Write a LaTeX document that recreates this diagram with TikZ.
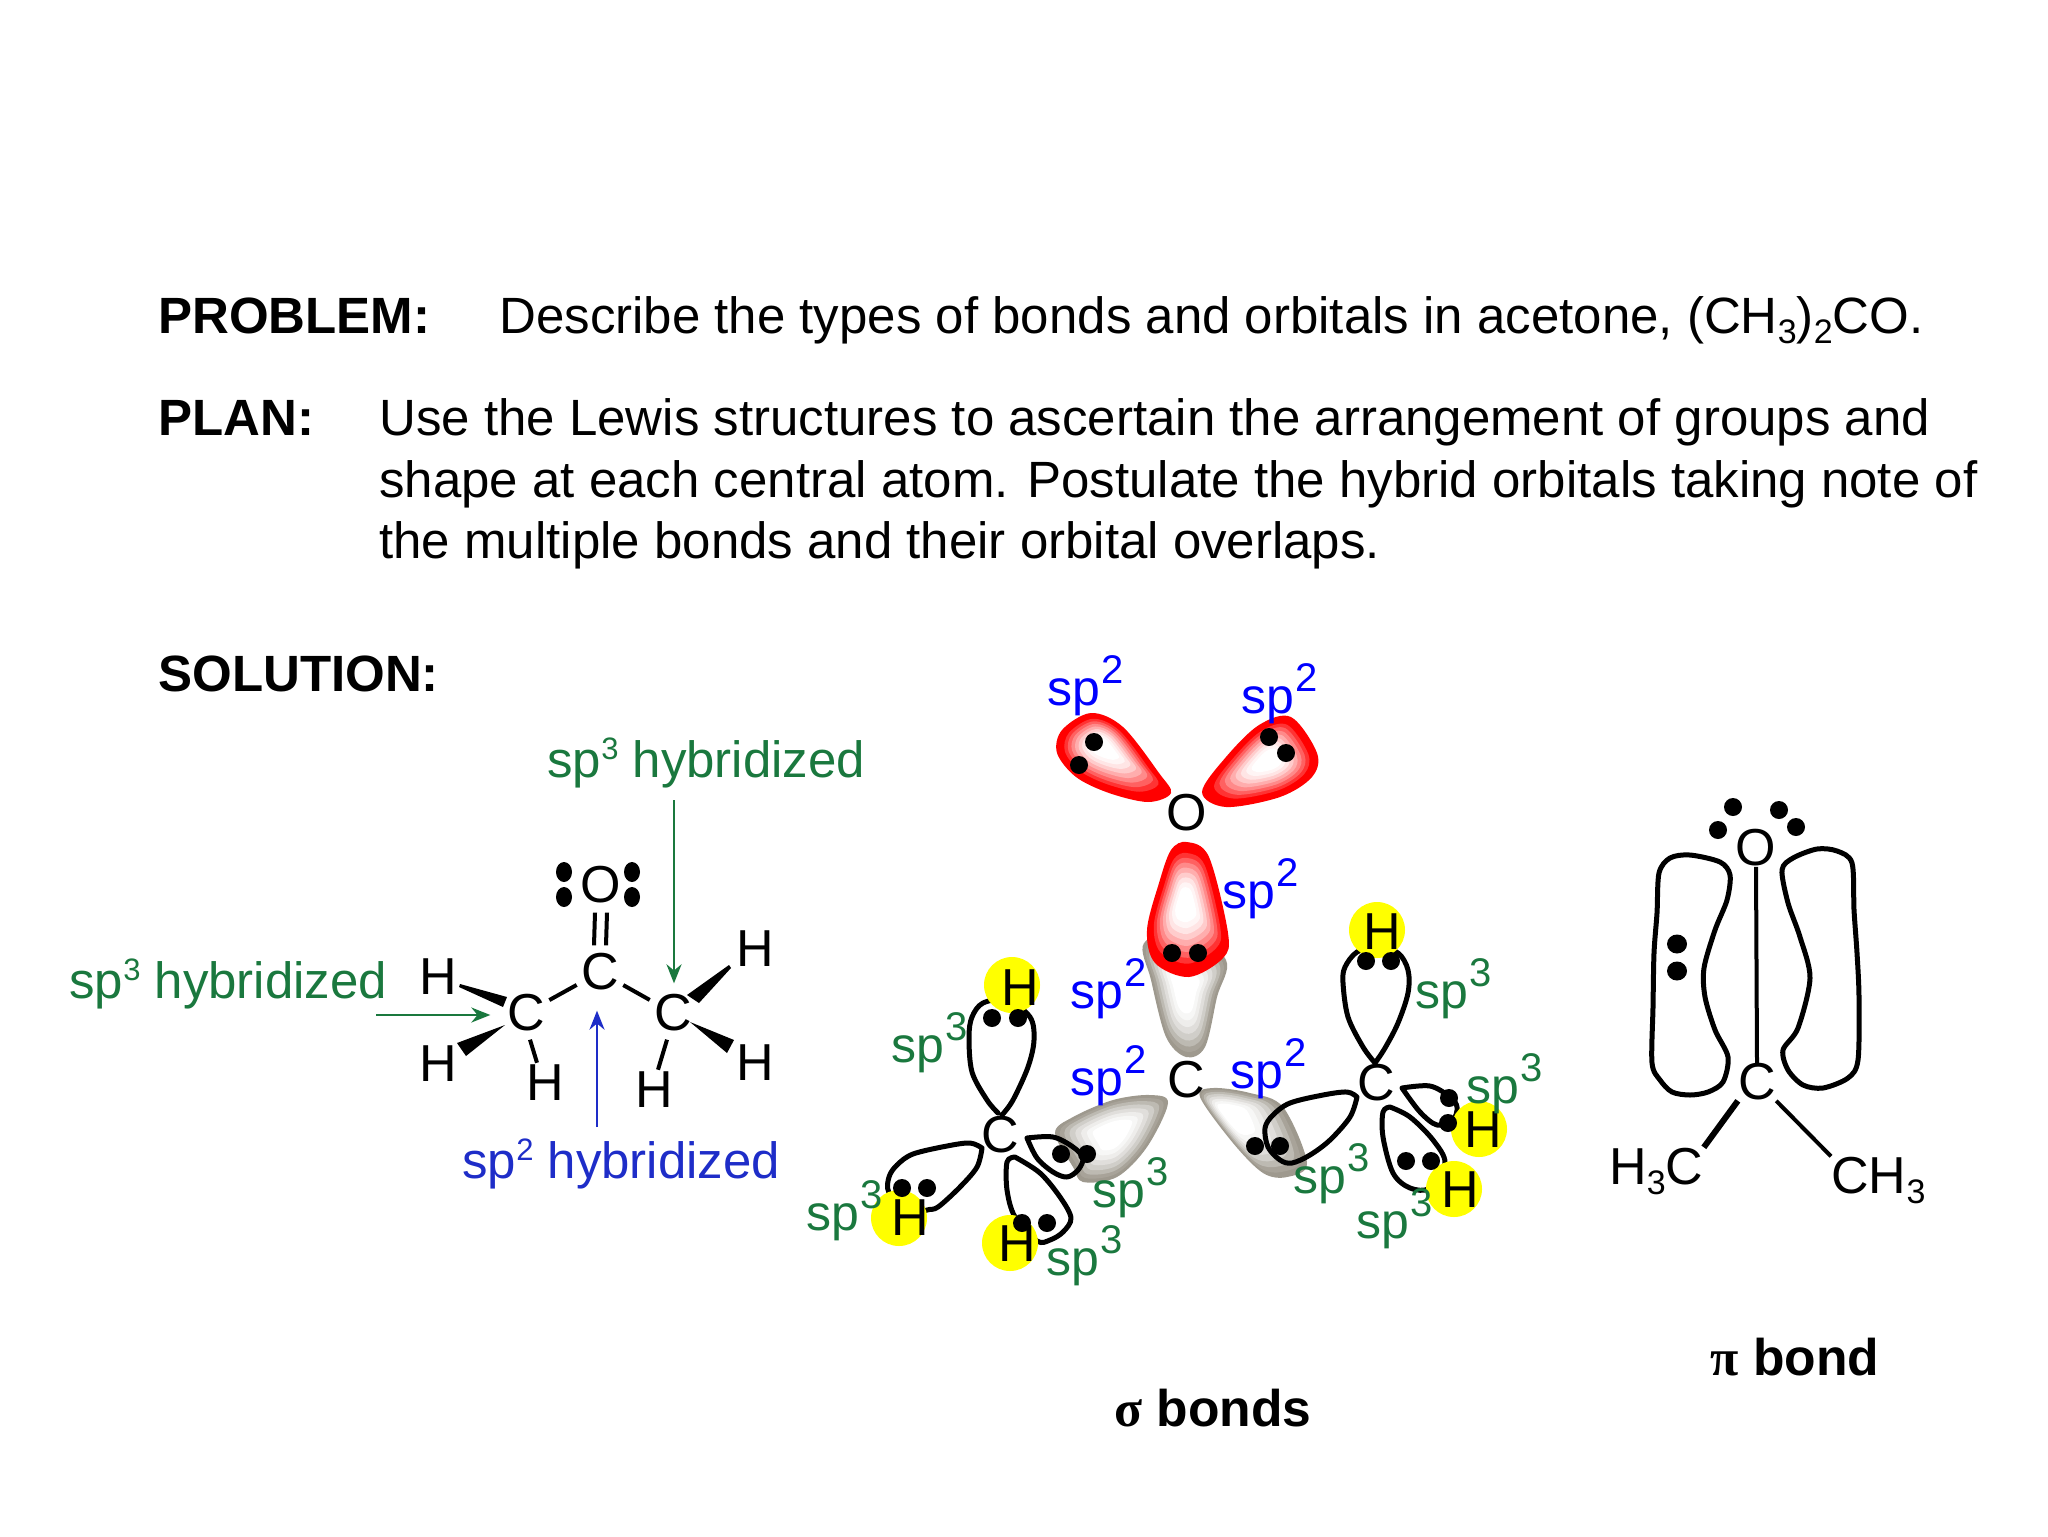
\documentclass[tikz,border=0pt]{standalone}
\usepackage{fontspec}
\setmainfont{Liberation Sans}
\newfontfamily\greekfont{Liberation Serif}
\usetikzlibrary{arrows.meta,calc}
\definecolor{lgreen}{RGB}{26,120,62}
\definecolor{lblue}{RGB}{0,0,255}
\definecolor{hblue}{RGB}{30,45,200}
\definecolor{lgray}{RGB}{158,153,142}
\definecolor{hyel}{RGB}{255,255,0}
\newcommand{\bodysize}{\fontsize{25.5pt}{30pt}\selectfont}
\newcommand{\capsize}{\fontsize{25.8pt}{30pt}\selectfont}
\newcommand{\labsize}{\fontsize{25pt}{30pt}\selectfont}
\newcommand{\atomsize}{\fontsize{26pt}{30pt}\selectfont}
\newcommand{\hybsize}{\fontsize{25.5pt}{30pt}\selectfont}
\newcommand{\spsup}[1]{sp\kern.5pt\raisebox{11pt}{\fontsize{20pt}{20pt}\selectfont #1}}
\newcommand{\hybsup}[1]{sp\raisebox{9pt}{\fontsize{15.5pt}{16pt}\selectfont #1}}
\newcommand{\subs}[1]{\raisebox{-5pt}{\fontsize{17pt}{17pt}\selectfont #1}}
\newcommand{\redlist}{1/100,.9/100,.82/80,.74/62,.66/46,.58/32,.5/20,.42/10,.34/4,.26/0}
\newcommand{\graylist}{1/100,.92/90,.84/68,.75/48,.65/32,.55/18,.45/8,.35/0}
% shaded lobe: colour, centre x, centre y, points, band list
\newcommand{\lobeshade}[5]{%
  \foreach \lsc/\lmx in #5{%
    \fill[#1!\lmx!white,shift={(#2,#3)},scale=\lsc,shift={(-#2,-#3)}]
      plot[smooth cycle,tension=.55] coordinates {#4};}}
\tikzset{
  txt/.style={anchor=base west,inner sep=0pt,font=\bodysize},
  head/.style={anchor=base west,inner sep=0pt,font=\bodysize\bfseries},
  caphead/.style={anchor=base west,inner sep=0pt,font=\capsize\bfseries},
  atom/.style={circle,inner sep=0pt,minimum size=23pt,font=\atomsize},
  hatom/.style={inner sep=0pt,font=\atomsize},
  sptw/.style={anchor=base west,inner sep=0pt,font=\labsize,text=lblue},
  spth/.style={anchor=base west,inner sep=0pt,font=\labsize,text=lgreen},
  hyb/.style={anchor=base west,inner sep=0pt,font=\hybsize},
  bond/.style={line width=2pt,black},
  lobe/.style={line width=2.5pt,black,line join=round,line cap=round},
  yelc/.style={circle,fill=hyel,minimum size=28pt,inner sep=0pt},
  edot/.style={circle,fill=black,minimum size=9pt,inner sep=0pt},
  harrow/.style={line width=1.3pt,-{Stealth[length=9.5pt,width=7.5pt]}},
}
\newcommand{\edots}[1]{\foreach \ex/\ey in {#1}{\node[edot] at (\ex,\ey) {};}}
\begin{document}
\begin{tikzpicture}[x=.5pt,y=-.5pt]
\useasboundingbox (0,0) rectangle (2048,1536);
% ---- text block
\node[head] (tprob) at (158,333) {PROBLEM:};
\node[txt] (tdesc) at (499,333) {Describe the types of bonds and orbitals in acetone, (CH\subs{3})\subs{2}CO.};
\node[head] (tplan) at (158,435) {PLAN:};
\node[txt] (tl1) at (379,435) {Use the Lewis structures to ascertain the arrangement of groups and};
\node[txt] (tl2) at (379,497) {shape at each central atom. Postulate the hybrid orbitals taking note of};
\node[txt] (tl3) at (379,558) {the multiple bonds and their orbital overlaps.};
\node[head] (tsol) at (158,691) {SOLUTION:};
% ---- Lewis structure
\node[hyb,text=lgreen] (hyb1) at (547,777) {\hybsup{3} hybridized};
\node[hyb,text=lgreen] (hyb2) at (69,998) {\hybsup{3} hybridized};
\node[hyb,text=hblue] (hyb3) at (462,1178) {\hybsup{2} hybridized};
\node[atom] (oa) at (601,885) {O};
\node[atom] (cc) at (600,972) {C};
\node[atom] (cl) at (526,1013) {C};
\node[atom] (cr) at (673,1013) {C};
\node[hatom] (h1) at (438,977) {H};
\node[hatom] (h2) at (438,1064) {H};
\node[hatom] (h3) at (545,1083) {H};
\node[hatom] (h4) at (654,1090) {H};
\node[hatom] (h5) at (755,949) {H};
\node[hatom] (h6) at (755,1063) {H};
\foreach \ex/\ey in {564/872,564/897,632/872,632/897}{\fill (\ex,\ey) ellipse [x radius=8,y radius=10];}
\draw[bond] ($(oa.south)+(-6,0)$) -- ($(cc.north)+(-6,0)$);
\draw[bond] ($(oa.south)+(6,0)$) -- ($(cc.north)+(6,0)$);
\draw[bond] (cc) -- (cl);
\draw[bond] (cc) -- (cr);
\draw[bond] ($(cl.south)+(4,0)$) -- ($(h3.north)+(-8,-2)$);
\draw[bond] ($(cr.south)+(-6,0)$) -- ($(h4.north)+(4,-2)$);
\fill (460,984) -- (507,997) -- (503,1007) -- (459,987) -- cycle;
\fill (505,1025) -- (457,1043) -- (466,1056) -- cycle;
\fill (729,965) -- (687,995) -- (699,1003) -- (731,968) -- cycle;
\fill (690,1022) -- (734,1040) -- (727,1053) -- cycle;
\coordinate (a1s) at (674,800);
\coordinate (a2s) at (376,1015);
\coordinate (a3s) at (597,1127);
\draw[harrow,lgreen] (a1s) -- ($(a1s |- cr.north)+(0,-3)$);
\draw[harrow,lgreen] (a2s) -- ($(a2s -| cl.west)+(-9,0)$);
\draw[harrow,hblue] (a3s) -- ($(a3s |- cc.south)+(0,12)$);
% ---- sigma picture: shaded lobes
\lobeshade{lgray}{1185}{990}{(1144,943)(1151,980)(1166,1037)(1186,1057)(1205,1047)(1217,997)(1226,960)(1185,930)}{\graylist}
\lobeshade{red}{1101}{745}{(1171,793)(1159,773)(1123,727)(1091,713)(1062,730)(1057,753)(1076,777)(1109,793)(1148,802)}{\redlist}
\lobeshade{red}{1269}{760}{(1202,792)(1226,757)(1259,725)(1291,717)(1317,753)(1312,777)(1280,797)(1226,807)}{\redlist}
\lobeshade{red}{1185}{903}{(1187,842)(1209,857)(1228,933)(1223,958)(1189,977)(1155,963)(1147,930)(1159,883)(1171,850)}{\redlist}
\lobeshade{lgray}{1113}{1133}{(1168,1103)(1150,1095)(1113,1100)(1073,1117)(1055,1133)(1073,1167)(1083,1182)(1117,1177)(1147,1147)}{\graylist}
\lobeshade{lgray}{1227}{1112}{(1200,1097)(1213,1088)(1250,1093)(1283,1107)(1307,1163)(1287,1177)(1263,1173)(1233,1143)}{\graylist}
% ---- black lobes
\draw[lobe] plot[smooth,tension=.55] coordinates {(998,1113)(987,1100)(972,1072)(969,1037)(972,1017)(983,1003)(1007,1000)(1030,1017)(1034,1040)(1028,1067)(1013,1100)(1002,1115)};
\draw[lobe] plot[smooth,tension=.55] coordinates {(982,1148)(970,1143)(947,1146)(913,1154)(897,1165)(889,1177)(889,1193)(907,1217)(927,1210)(938,1207)(960,1187)(977,1167)(982,1148)};
\draw[lobe] plot[smooth,tension=.55] coordinates {(1015,1157)(1007,1162)(1007,1190)(1015,1217)(1037,1241)(1050,1240)(1063,1232)(1071,1218)(1060,1197)(1040,1173)(1015,1157)};
\draw[lobe] plot[smooth,tension=.55] coordinates {(1027,1138)(1053,1137)(1073,1147)(1083,1158)(1078,1170)(1067,1177)(1053,1172)(1037,1158)(1027,1138)};
\draw[lobe] plot[smooth,tension=.55] coordinates {(1375,1063)(1363,1047)(1348,1017)(1343,983)(1345,967)(1357,952)(1377,947)(1398,953)(1408,970)(1408,993)(1398,1023)(1385,1048)(1375,1063)};
\draw[lobe] plot[smooth,tension=.55] coordinates {(1357,1097)(1347,1092)(1323,1095)(1290,1103)(1273,1115)(1265,1128)(1268,1147)(1280,1160)(1292,1163)(1310,1155)(1330,1140)(1350,1117)(1357,1097)};
\draw[lobe] plot[smooth,tension=.55] coordinates {(1390,1107)(1383,1112)(1383,1137)(1393,1173)(1410,1188)(1430,1188)(1445,1163)(1433,1140)(1410,1117)(1390,1107)};
\draw[lobe] plot[smooth,tension=.55] coordinates {(1402,1088)(1430,1086)(1450,1097)(1457,1107)(1453,1120)(1437,1125)(1420,1112)(1402,1088)};
% ---- yellow hydrogens
\node[yelc] (y1) at (1012,985) {};
\node[yelc] (y2) at (899,1218) {};
\node[yelc] (y3) at (1010,1243) {};
\node[yelc] (y4) at (1377,930) {};
\node[yelc] (y5) at (1479,1129) {};
\node[yelc] (y6) at (1454,1189) {};
% ---- electron dots
\edots{1094/742,1079/765,1269/737,1286/753,1172/953,1198/953,
  992/1018,1018/1018,902/1188,927/1188,1022/1223,1047/1223,1061/1154,1087/1154,
  1366/961,1391/961,1255/1146,1280/1146,1406/1161,1431/1161,1449/1098,1448/1123}
% ---- atoms
\node[hatom] (so) at (1187,813) {O};
\node[hatom] (sc) at (1186,1080) {C};
\node[hatom] (scl) at (1000,1135) {C};
\node[hatom] (scr) at (1376,1083) {C};
\node[hatom] (sh1) at (1020,988) {H};
\node[hatom] (sh2) at (910,1218) {H};
\node[hatom] (sh3) at (1017,1244) {H};
\node[hatom] (sh4) at (1382,932) {H};
\node[hatom] (sh5) at (1483,1130) {H};
\node[hatom] (sh6) at (1460,1190) {H};
% ---- orbital labels
\node[sptw] (l1) at (1047,705) {\spsup{2}};
\node[sptw] (l2) at (1241,713) {\spsup{2}};
\node[sptw] (l3) at (1222,908) {\spsup{2}};
\node[sptw] (l4) at (1070,1008) {\spsup{2}};
\node[sptw] (l5) at (1070,1095) {\spsup{2}};
\node[sptw] (l6) at (1230,1088) {\spsup{2}};
\node[spth] (m1) at (891,1062) {\spsup{3}};
\node[spth] (m2) at (806,1230) {\spsup{3}};
\node[spth] (m3) at (1092,1207) {\spsup{3}};
\node[spth] (m4) at (1046,1275) {\spsup{3}};
\node[spth] (m5) at (1415,1008) {\spsup{3}};
\node[spth] (m6) at (1466,1103) {\spsup{3}};
\node[spth] (m7) at (1293,1193) {\spsup{3}};
\node[spth] (m8) at (1356,1238) {\spsup{3}};
\node[caphead] (sigl) at (1114,1426) {{\greekfont σ} bonds};
% ---- pi picture
\draw[lobe] plot[smooth cycle,tension=.5] coordinates {(1730,875)(1720,862)(1690,855)(1670,858)(1659,873)(1657,913)(1654,953)(1653,1007)(1652,1063)(1660,1080)(1672,1092)(1690,1095)(1708,1092)(1723,1082)(1728,1057)(1715,1030)(1705,997)(1704,968)(1715,930)(1727,900)};
\draw[lobe] plot[smooth cycle,tension=.5] coordinates {(1782,870)(1793,858)(1817,849)(1837,851)(1852,863)(1854,910)(1857,953)(1859,997)(1858,1060)(1848,1078)(1823,1088)(1803,1085)(1788,1070)(1783,1050)(1798,1028)(1810,978)(1800,937)(1788,903)};
\node[hatom] (po) at (1756,848) {O};
\node[hatom] (pc) at (1757,1082) {C};
\node[anchor=base west,inner sep=0pt,font=\atomsize] (pl) at (1609,1184) {H\subs{3}C};
\node[anchor=base west,inner sep=0pt,font=\atomsize] (pr) at (1831,1193) {CH\subs{3}};
\draw[line width=2pt] (po.south) -- (pc.north);
\draw[line width=3pt] (pc.south west) -- (pl.north east);
\draw[line width=2pt] (pc.south east) -- (pr.north west);
\edots{1718/830,1733/807,1779/810,1796/827}
\fill (1677,944) ellipse [x radius=10,y radius=9.5];
\fill (1677,971) ellipse [x radius=10,y radius=9.5];
\node[caphead] (pil) at (1710,1375) {{\greekfont π} bond};
\end{tikzpicture}
\end{document}
